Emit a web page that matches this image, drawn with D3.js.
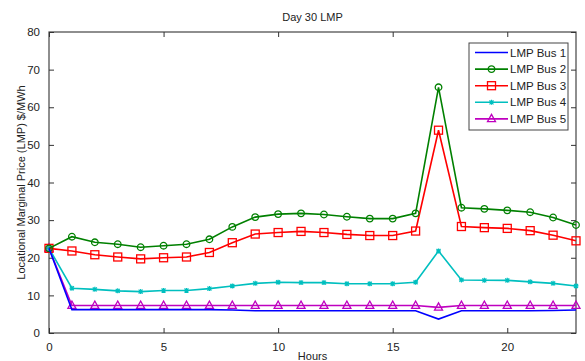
<!DOCTYPE html>
<html>
<head>
<meta charset="utf-8">
<script src="https://cdn.jsdelivr.net/npm/d3@7"></script>
<style>
  body { margin: 0; background: #fff; }
  text { font-family: "Liberation Sans", Arial, sans-serif; }
</style>
</head>
<body>
<div id="chart"></div>
<script>
// hourly LMP values
var hours = d3.range(0, 24);
var bus1 = [22.5, 6.2, 6.2, 6.2, 6.2, 6.2, 6.2, 6.2, 6.1, 5.9, 5.9, 5.9, 5.9, 5.9, 5.9, 5.9, 5.9, 3.7, 5.9, 5.9, 5.9, 5.9, 6.0, 6.1];
var bus2 = [22.5, 25.6, 24.1, 23.6, 22.8, 23.2, 23.6, 24.9, 28.2, 30.8, 31.6, 31.8, 31.5, 30.9, 30.4, 30.4, 31.8, 65.3, 33.3, 33.0, 32.6, 32.1, 30.7, 28.7];
var bus3 = [22.5, 21.8, 20.8, 20.2, 19.7, 20.0, 20.2, 21.4, 24.0, 26.3, 26.7, 27.0, 26.7, 26.2, 25.9, 25.9, 27.1, 53.9, 28.3, 28.0, 27.8, 27.2, 26.0, 24.5];
var bus4 = [22.5, 11.9, 11.6, 11.2, 11.0, 11.3, 11.3, 11.8, 12.5, 13.2, 13.5, 13.4, 13.4, 13.1, 13.1, 13.1, 13.5, 21.8, 14.1, 14.0, 14.0, 13.6, 13.2, 12.5];
var bus5 = [22.5, 7.3, 7.3, 7.3, 7.3, 7.3, 7.3, 7.3, 7.3, 7.3, 7.3, 7.3, 7.3, 7.3, 7.3, 7.3, 7.3, 6.8, 7.3, 7.3, 7.3, 7.3, 7.3, 7.3];
var seriesNames = ["LMP Bus 1", "LMP Bus 2", "LMP Bus 3", "LMP Bus 4", "LMP Bus 5"];
var xTicks = [0, 5, 10, 15, 20];
var yTicks = [0, 10, 20, 30, 40, 50, 60, 70, 80];

var svgWidth = 585;
var svgHeight = 361;
var margin = { top: 32, bottom: 28, left: 49, right: 9 };
var width = svgWidth - margin.left - margin.right;
var height = svgHeight - margin.top - margin.bottom;

var series = [
    { name: seriesNames[0], values: bus1, color: "#0000ff", marker: "none" },
    { name: seriesNames[1], values: bus2, color: "#008000", marker: "circle" },
    { name: seriesNames[2], values: bus3, color: "#ff0000", marker: "square" },
    { name: seriesNames[3], values: bus4, color: "#00bfbf", marker: "star" },
    { name: seriesNames[4], values: bus5, color: "#bf00bf", marker: "triangle" }
];

var svg = d3.select("#chart")
    .append("svg")
    .attr("width", svgWidth)
    .attr("height", svgHeight);

var chartGroup = svg.append("g")
    .attr("transform", `translate(${margin.left}, ${margin.top})`);

var xScale = d3.scaleLinear().domain([0, 23]).range([0, width]);
var yScale = d3.scaleLinear().domain([0, 80]).range([height, 0]);

// plot box
chartGroup.append("rect")
    .attr("width", width)
    .attr("height", height)
    .attr("fill", "#fff")
    .attr("stroke", "#444")
    .attr("stroke-width", 1.2);

// axes with inward ticks, mirrored on top/right
function styleAxis(g) {
    g.select(".domain").remove();
    g.selectAll("line").attr("stroke", "#333");
    g.selectAll("text").attr("fill", "#222").attr("font-size", "11.5px");
}

chartGroup.append("g")
    .attr("transform", `translate(0, ${height})`)
    .call(d3.axisBottom(xScale).tickValues(xTicks).tickSizeInner(-5).tickSizeOuter(0).tickPadding(10))
    .call(styleAxis);

chartGroup.append("g")
    .call(d3.axisTop(xScale).tickValues(xTicks).tickSizeInner(-5).tickSizeOuter(0).tickFormat(""))
    .call(styleAxis);

chartGroup.append("g")
    .call(d3.axisLeft(yScale).tickValues(yTicks).tickSizeInner(-5).tickSizeOuter(0).tickPadding(9))
    .call(styleAxis);

chartGroup.append("g")
    .attr("transform", `translate(${width}, 0)`)
    .call(d3.axisRight(yScale).tickValues(yTicks).tickSizeInner(-5).tickSizeOuter(0).tickFormat(""))
    .call(styleAxis);

var line = d3.line()
    .x((d, i) => xScale(hours[i]))
    .y(d => yScale(d));

function drawMarker(g, type, color) {
    if (type === "circle") {
        g.append("circle").attr("r", 3.3).attr("fill", "none").attr("stroke", color).attr("stroke-width", 1.3);
    } else if (type === "square") {
        g.append("rect").attr("x", -4).attr("y", -4).attr("width", 8).attr("height", 8)
            .attr("fill", "none").attr("stroke", color).attr("stroke-width", 1.3);
    } else if (type === "triangle") {
        g.append("path").attr("d", "M0,-4.5L4,2.8L-4,2.8Z")
            .attr("fill", "none").attr("stroke", color).attr("stroke-width", 1.3);
    } else if (type === "star") {
        g.append("path").attr("d", "M-2.5,0H2.5M0,-2.5V2.5M-2,-2L2,2M-2,2L2,-2")
            .attr("stroke", color).attr("stroke-width", 1.2);
    }
}

// draw in reverse so bus 1 sits near the top like the original
series.slice().reverse().forEach(function(s) {
    chartGroup.append("path")
        .datum(s.values)
        .attr("fill", "none")
        .attr("stroke", s.color)
        .attr("stroke-width", 1.6)
        .attr("d", line);

    s.values.forEach(function(v, i) {
        var m = chartGroup.append("g")
            .attr("transform", `translate(${xScale(hours[i])}, ${yScale(v)})`);
        drawMarker(m, s.marker, s.color);
    });
});

// legend
var legend = svg.append("g").attr("transform", "translate(469, 43)");
legend.append("rect")
    .attr("width", 99)
    .attr("height", 87)
    .attr("fill", "#fff")
    .attr("stroke", "#444")
    .attr("stroke-width", 1);

series.forEach(function(s, i) {
    var y = 9.5 + i * 16.6;
    legend.append("line")
        .attr("x1", 6).attr("x2", 39)
        .attr("y1", y).attr("y2", y)
        .attr("stroke", s.color)
        .attr("stroke-width", 1.6);
    var m = legend.append("g").attr("transform", `translate(22.5, ${y})`);
    drawMarker(m, s.marker, s.color);
    legend.append("text")
        .attr("x", 41)
        .attr("y", y + 4)
        .attr("font-size", "11.5px")
        .attr("fill", "#222")
        .text(s.name);
});

// title and axis labels
svg.append("text")
    .attr("x", margin.left + width / 2)
    .attr("y", 21)
    .attr("text-anchor", "middle")
    .attr("font-size", "11px")
    .attr("fill", "#222")
    .text("Day 30 LMP");

svg.append("text")
    .attr("x", margin.left + width / 2)
    .attr("y", 360)
    .attr("text-anchor", "middle")
    .attr("font-size", "11px")
    .attr("fill", "#222")
    .text("Hours");

svg.append("text")
    .attr("transform", `translate(25, ${margin.top + height / 2}) rotate(-90)`)
    .attr("text-anchor", "middle")
    .attr("font-size", "11px")
    .attr("fill", "#222")
    .text("Locational Marginal Price (LMP) $/MWh");
</script>
</body>
</html>
